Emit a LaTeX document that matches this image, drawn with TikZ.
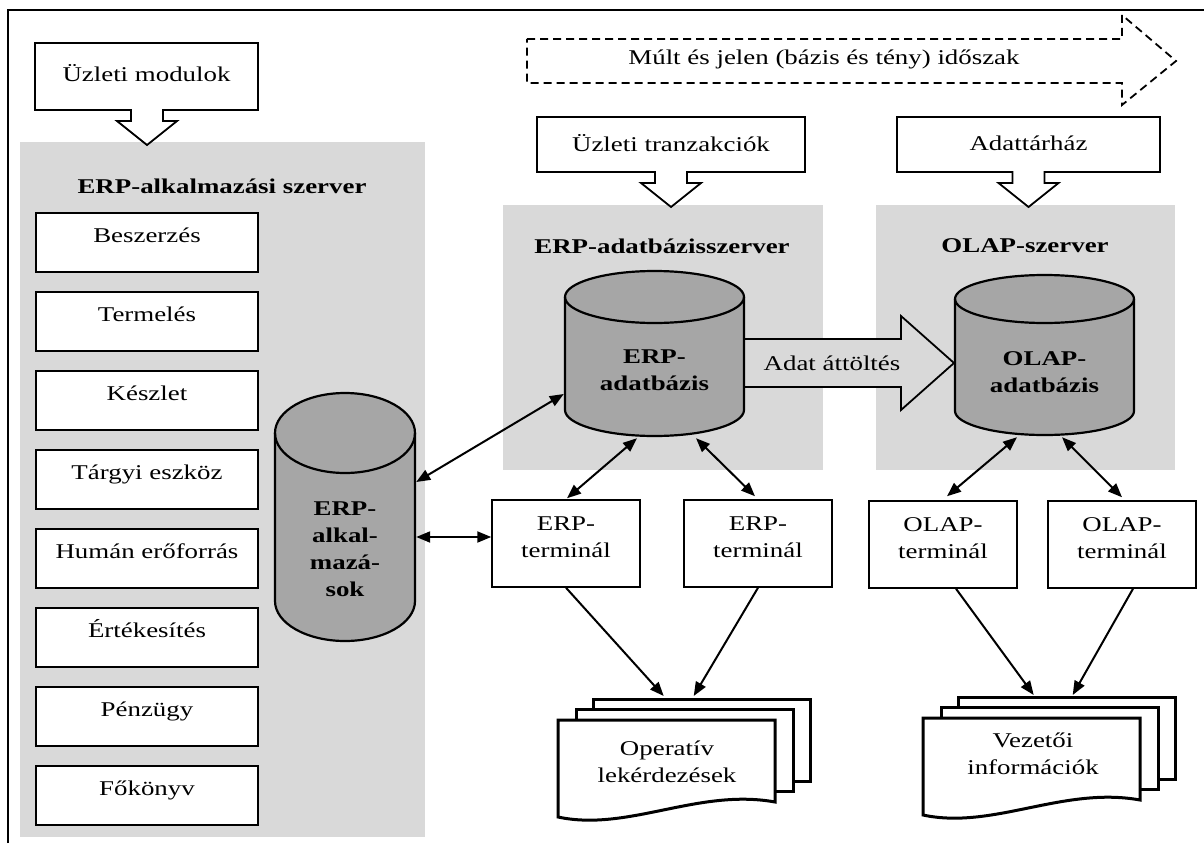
\documentclass[tikz,border=0pt]{standalone}
\usepackage{fontspec}
\setmainfont{Liberation Serif}[FakeStretch=1.28]
\usetikzlibrary{arrows.meta,calc}
\definecolor{panelgray}{HTML}{D9D9D9}
\definecolor{cylgray}{HTML}{A6A6A6}
\newcommand{\mycyl}[5]{%
  \path[fill=cylgray] (#1-#4,#2+#5) -- (#1-#4,#3-#5)
    arc[start angle=180,end angle=0,x radius=#4,y radius=#5]
    -- (#1+#4,#2+#5)
    arc[start angle=0,end angle=-180,x radius=#4,y radius=#5] -- cycle;
  \draw[line width=2.2pt] (#1-#4,#2+#5) -- (#1-#4,#3-#5)
    arc[start angle=180,end angle=0,x radius=#4,y radius=#5]
    -- (#1+#4,#2+#5);
  \draw[line width=2.2pt] (#1,#2+#5) ellipse[x radius=#4,y radius=#5];}
\newcommand{\mydocs}[2]{%
  \draw[docline] (#1+35,#2-21) rectangle (#1+252,#2+61);
  \draw[docline] (#1+18,#2-10.5) rectangle (#1+235,#2+71.5);
  \draw[docline] (#1,#2) -- (#1+217,#2) -- (#1+217,#2+82)
    .. controls (#1+140,#2+68) and (#1+70,#2+112) .. (#1,#2+97) -- cycle;}
\begin{document}
\begin{tikzpicture}[x=1pt,y=-1pt,
  lbl/.style={font=\fontsize{21}{27}\selectfont, inner sep=0pt, align=center},
  blbl/.style={font=\bfseries\fontsize{21}{27}\selectfont, inner sep=0pt, align=center},
  callout/.style={draw, line width=1.8pt, fill=white, line join=miter},
  modbox/.style={draw, line width=1.5pt, fill=white, minimum width=222pt, minimum height=59pt,
    text height=14pt, text depth=14pt, font=\fontsize{21}{27}\selectfont, inner sep=0pt},
  termbox/.style={draw, line width=1.5pt, fill=white, minimum width=148pt, minimum height=87pt, inner sep=0pt},
  ghost/.style={inner sep=0pt, draw=none},
  docline/.style={line width=3pt, fill=white, line join=miter},
  conn/.style={{Triangle[length=14pt,width=11pt]}-{Triangle[length=14pt,width=11pt]}, line width=2pt},
  oneway/.style={-{Triangle[length=14pt,width=11pt]}, line width=2pt},
  dashedarrow/.style={draw, line width=1.8pt, dash pattern=on 8pt off 5pt}
]
\useasboundingbox (0,0) rectangle (1204,843);
\fill[white] (0,0) rectangle (1204,843);
% frame
\draw[line width=2.2pt] (8,843) -- (8,10) -- (1204,10);

% panels
\fill[panelgray] (20,142) rectangle (425,837);
\fill[panelgray] (503,205) rectangle (823,470);
\fill[panelgray] (876,205) rectangle (1175,470);

% dashed period arrow
\draw[dashedarrow] (527,39) -- (1122,39) -- (1122,15) -- (1176,61) -- (1122,105) -- (1122,83) -- (527,83) -- cycle;
\node[lbl] (period) at (824,59) {Múlt és jelen (bázis és tény) időszak};

% callouts
\draw[callout] (35,43) -- (258,43) -- (258,110) -- (163,110) -- (163,121) -- (177,121) -- (147,145)
  -- (117,121) -- (131,121) -- (131,110) -- (35,110) -- cycle;
\node[lbl] (um) at (146.5,73) {Üzleti modulok};
\draw[callout] (537,117) -- (805,117) -- (805,172) -- (687,172) -- (687,183) -- (701,183) -- (671,207)
  -- (641,183) -- (655,183) -- (655,172) -- (537,172) -- cycle;
\node[lbl] (ut) at (671,143) {Üzleti tranzakciók};
\draw[callout] (897,117) -- (1160,117) -- (1160,172) -- (1044.5,172) -- (1044.5,183) -- (1058.5,183) -- (1028.5,207)
  -- (998.5,183) -- (1012.5,183) -- (1012.5,172) -- (897,172) -- cycle;
\node[lbl] (dw) at (1028.5,143) {Adattárház};

% panel titles
\node[blbl] (appsrv) at (222,186) {ERP-alkalmazási szerver};
\node[blbl] (dbsrv) at (662,246) {ERP-adatbázisszerver};
\node[blbl] (olapsrv) at (1025,246) {OLAP-szerver};

% module boxes
\node[modbox] (m1) at (147,242.5) {Beszerzés};
\node[modbox] (m2) at (147,321.5) {Termelés};
\node[modbox] (m3) at (147,400.5) {Készlet};
\node[modbox] (m4) at (147,479.5) {Tárgyi eszköz};
\node[modbox] (m5) at (147,558.5) {Humán erőforrás};
\node[modbox] (m6) at (147,637.5) {Értékesítés};
\node[modbox] (m7) at (147,716.5) {Pénzügy};
\node[modbox] (m8) at (147,795.5) {Főkönyv};

% data transfer arrow
\draw[line width=1.8pt, fill=panelgray] (744,339) -- (901,339) -- (901,316) -- (954,363) -- (901,410) -- (901,387) -- (744,387) -- cycle;
\node[lbl] (transfer) at (832,363) {Adat áttöltés};

% cylinders
\mycyl{345}{393}{641}{70}{40}
\node[ghost, minimum width=140pt, minimum height=248pt] (erpapp) at (345,517) {};
\node[blbl] at (345,549) {ERP-\\alkal-\\mazá-\\sok};
\mycyl{654.5}{271}{436}{89.5}{26}
\node[ghost, minimum width=179pt, minimum height=165pt] (erpdb) at (654.5,353.5) {};
\node[blbl] at (654.5,370) {ERP-\\adatbázis};
\mycyl{1044.5}{275}{435}{89.5}{24}
\node[ghost, minimum width=179pt, minimum height=160pt] (olapdb) at (1044.5,355) {};
\node[blbl] at (1044.5,372) {OLAP-\\adatbázis};

% terminals
\node[termbox] (t1) at (566,543.5) {};
\node[lbl] at ($(t1.center)+(0,-6)$) {ERP-\\terminál};
\node[termbox] (t2) at (758,543.5) {};
\node[lbl] at ($(t2.center)+(0,-6)$) {ERP-\\terminál};
\node[termbox] (o1) at (943,544.5) {};
\node[lbl] at ($(o1.center)+(0,-6)$) {OLAP-\\terminál};
\node[termbox] (o2) at (1122,544.5) {};
\node[lbl] at ($(o2.center)+(0,-6)$) {OLAP-\\terminál};

% document stacks
\mydocs{558}{720}
\node[ghost, minimum width=217pt, minimum height=82pt, anchor=north west] (opback) at (593,699) {};
\node[lbl] at (667,762) {Operatív\\lekérdezések};
\mydocs{923}{718}
\node[ghost, minimum width=217pt, minimum height=82pt, anchor=north west] (vzback) at (958,697) {};
\node[lbl] at (1033,754) {Vezetői\\információk};

% connectors
\draw[conn] ($(erpdb.west)+(-1,40.5)$) -- ($(erpapp.east)+(1,-35)$);
\draw[conn] ($(erpapp.east)+(1,20)$) -- ($(t1.west)+(0,-6.5)$);
\draw[conn] ($(erpdb.south)+(-17.5,2)$) -- ($(t1.north)+(1,-1)$);
\draw[conn] ($(erpdb.south)+(41.5,2)$) -- ($(t2.north)+(-3,-3)$);
\draw[conn] ($(olapdb.south)+(-27.5,2)$) -- ($(o1.north)+(4,-4)$);
\draw[conn] ($(olapdb.south)+(17.5,2)$) -- ($(o2.north)+(0,-3)$);
\draw[oneway] (t1.south) -- ($(opback.north)+(-38,-3)$);
\draw[oneway] (t2.south) -- ($(opback.north)+(-8,-3)$);
\draw[oneway] ($(o1.south)+(13,0)$) -- ($(vzback.north)+(-33,-2)$);
\draw[oneway] ($(o2.south)+(11,0)$) -- ($(vzback.north)+(6,-2)$);
\end{tikzpicture}
\end{document}
